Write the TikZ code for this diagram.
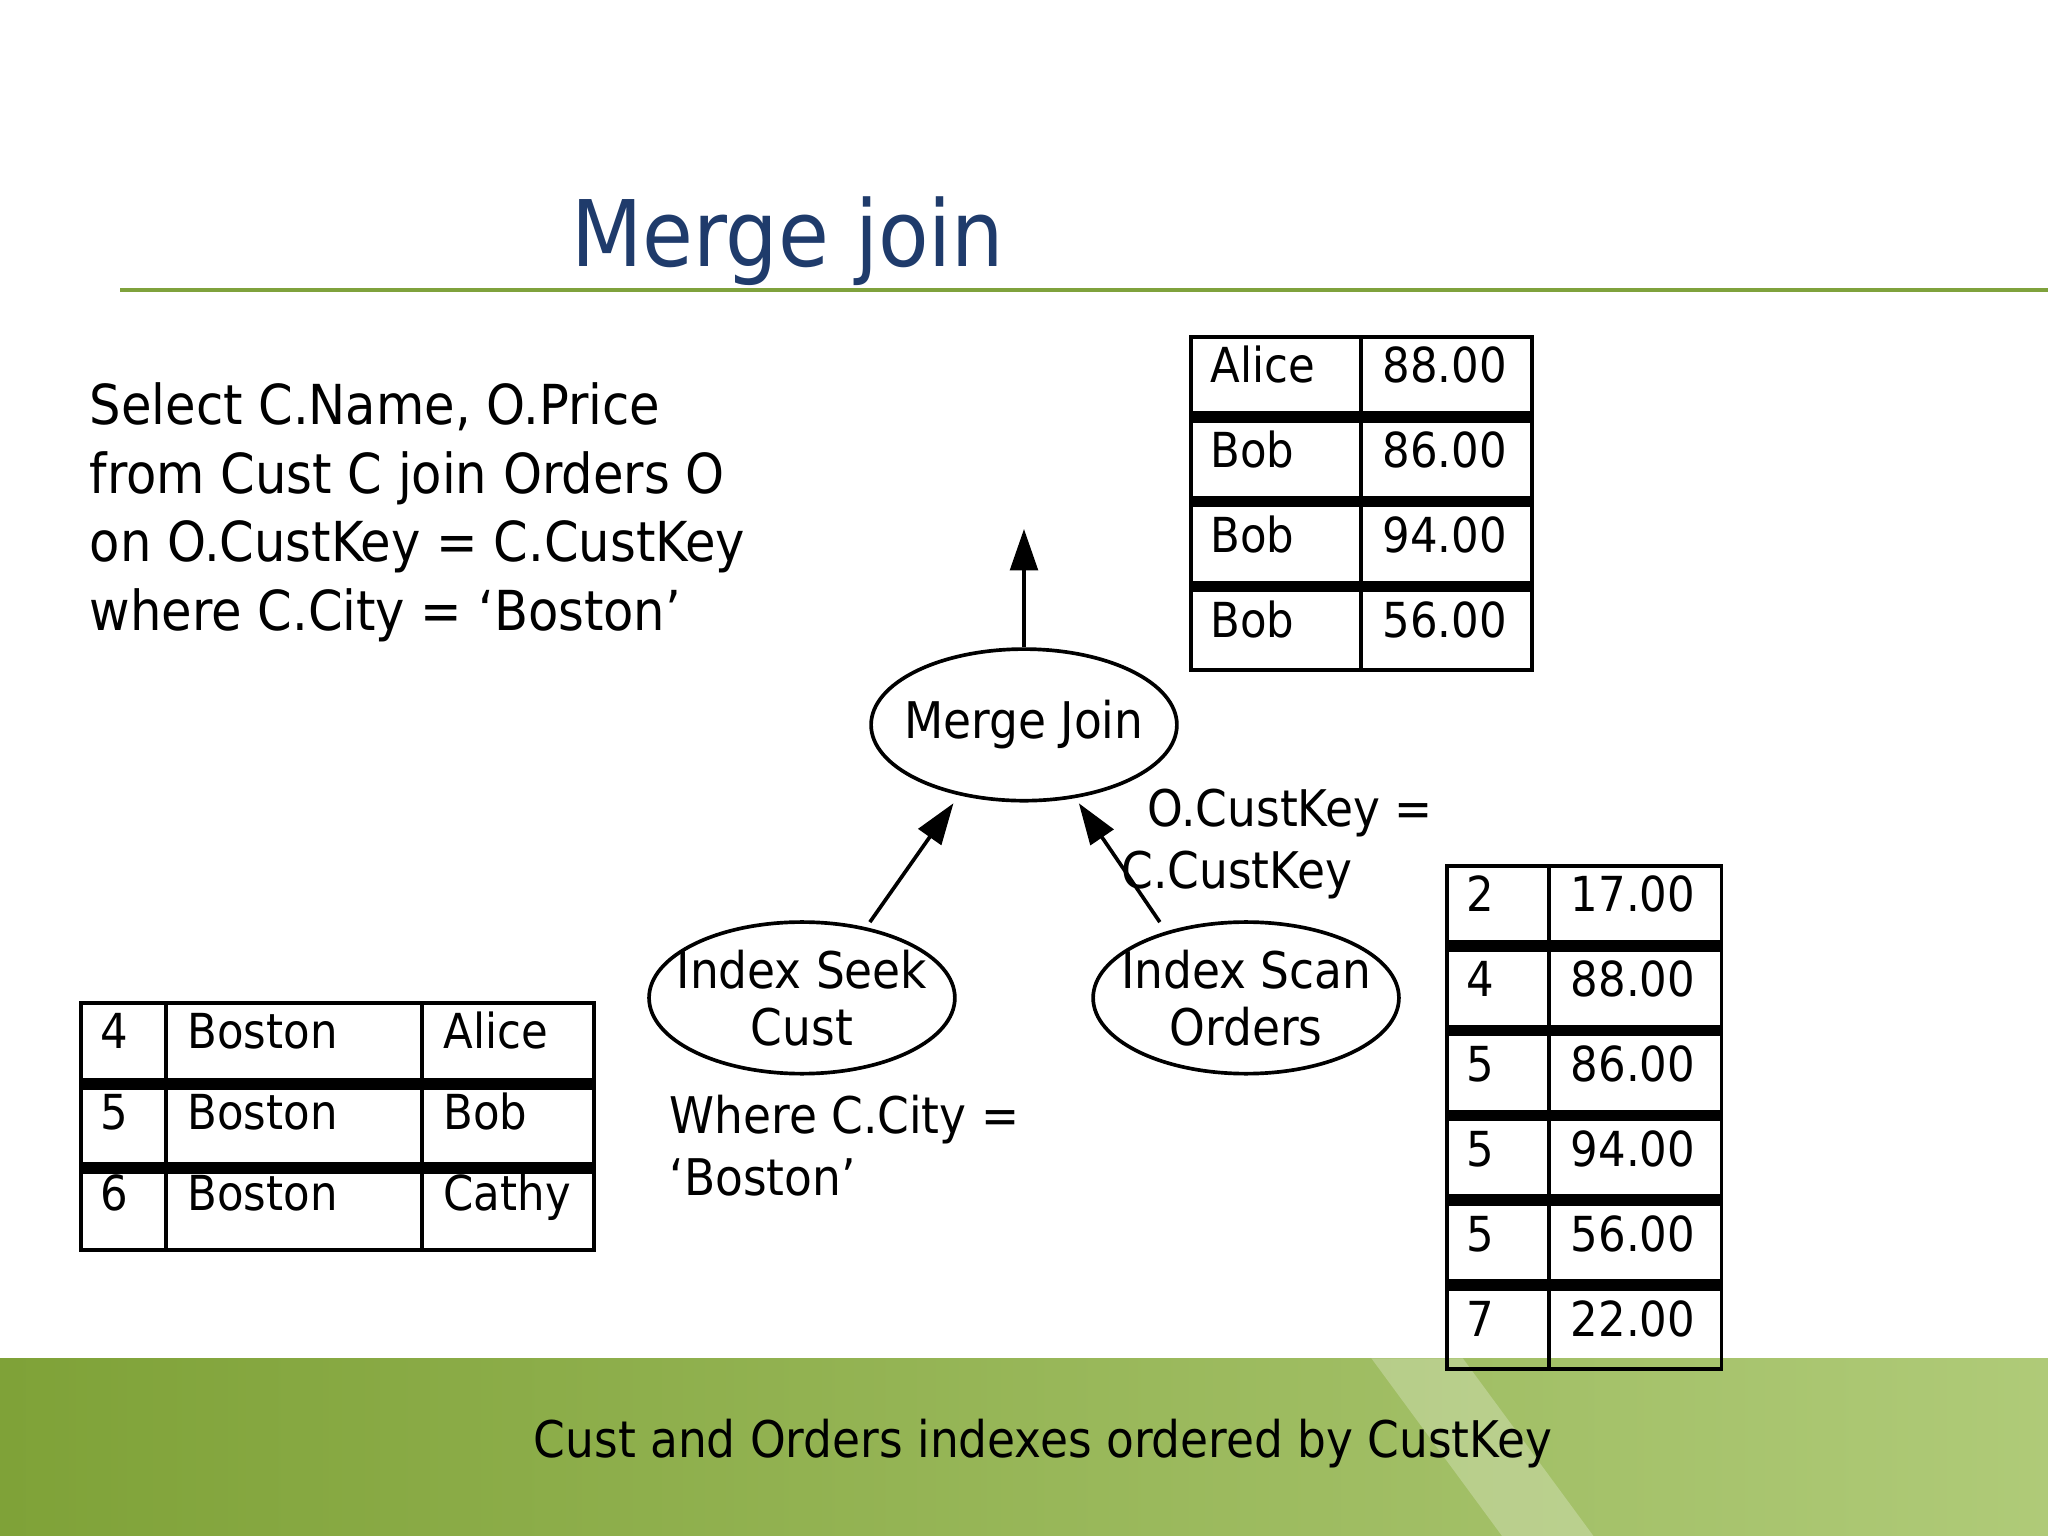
\documentclass[tikz,border=0pt]{standalone}
\usepackage{fontspec}
\setmainfont{DejaVu Sans Condensed}
\usetikzlibrary{shapes.geometric,arrows.meta}
\definecolor{titleblue}{HTML}{1F3B6B}
\definecolor{linegreen}{HTML}{7FA23C}
\definecolor{bandgreen}{HTML}{8DB43E}
\tikzset{
  op/.style={ellipse,draw,thick,minimum width=2.34cm,minimum height=1.16cm,align=center,font=\fontsize{11}{12.5}\selectfont,inner xsep=-0.2cm,inner ysep=0pt},
  txt/.style={anchor=west,font=\fontsize{11}{13.5}\selectfont,inner sep=0pt},
  cell/.style={anchor=base west,font=\fontsize{10.5}{12}\selectfont,inner sep=0pt},
  flow/.style={thick,-{Triangle[width=6pt,length=9pt]}}
}
\begin{document}
\begin{tikzpicture}[x=0.01cm,y=-0.01cm]
  \useasboundingbox (0,0) rectangle (1568,1176);
  % background band and title rule
  \shade[left color=bandgreen!90!black,right color=bandgreen!70!white] (0,1040) rectangle (1568,1176);
  \fill[white,opacity=0.25] (1050,1040) -- (1120,1040) -- (1220,1176) -- (1150,1176) -- cycle;
  \draw[linegreen,thick] (92,222) -- (1568,222);
  \node[font=\fontsize{20}{24}\selectfont,text=titleblue] (title) at (603,185) {Merge join};

  % query text
  \node[txt,align=left,anchor=north west,font=\fontsize{12}{15}\selectfont] (query) at (68,292)
    {Select C.Name, O.Price\\from Cust C join Orders O\\on O.CustKey = C.CustKey\\where C.City = ‘Boston’};

  % plan
  \node[op] (mj) at (784,555) {Merge Join};
  \node[op] (seek) at (614,764) {Index Seek\\Cust};
  \node[op] (scan) at (954,764) {Index Scan\\Orders};
  \coordinate (out) at (784,405);
  \coordinate (mjl) at (730,615);
  \coordinate (mjr) at (826,615);
  \coordinate (seekt) at (666,706);
  \coordinate (scant) at (888,706);
  \draw[flow] (mj.north) -- (out);
  \draw[flow] (seekt) -- (mjl);
  \draw[flow] (scant) -- (mjr);
  \node[txt,anchor=north west,align=left] (pred) at (878,603) {O.CustKey =\\\hspace*{-0.2cm}C.CustKey};
  \node[txt,anchor=north west,align=left] (where) at (512,838) {Where C.City =\\‘Boston’};
  \node[txt] (foot) at (408,1105) {Cust and Orders indexes ordered by CustKey};

  % left table
  \draw[line width=0.03cm] (62,768) rectangle (455,957);
  \draw[line width=0.03cm] (127,768) -- (127,957) (323,768) -- (323,957);
  \foreach \y in {830,894} \draw[line width=0.09cm] (62,\y) -- (455,\y);
  \foreach \k/\c/\n [count=\i from 0] in {4/Boston/Alice,5/Boston/Bob,6/Boston/Cathy}{
    \node[cell] at (76,{803+62*\i}) {\k};
    \node[cell] at (143,{803+62*\i}) {\c};
    \node[cell] at (339,{803+62*\i}) {\n};
  }

  % result table
  \draw[line width=0.03cm] (912,258) rectangle (1173,513);
  \draw[line width=0.03cm] (1042,258) -- (1042,513);
  \foreach \y in {319,384,449} \draw[line width=0.09cm] (912,\y) -- (1173,\y);
  \foreach \n/\p [count=\i from 0] in {Alice/88.00,Bob/86.00,Bob/94.00,Bob/56.00}{
    \node[cell] at (926,{293+65*\i}) {\n};
    \node[cell] at (1058,{293+65*\i}) {\p};
  }

  % orders table
  \draw[line width=0.03cm] (1108,663) rectangle (1318,1048);
  \draw[line width=0.03cm] (1186,663) -- (1186,1048);
  \foreach \y in {724,789,854,919,984} \draw[line width=0.09cm] (1108,\y) -- (1318,\y);
  \foreach \k/\p [count=\i from 0] in {2/17.00,4/88.00,5/86.00,5/94.00,5/56.00,7/22.00}{
    \node[cell] at (1122,{698+65*\i}) {\k};
    \node[cell] at (1202,{698+65*\i}) {\p};
  }
\end{tikzpicture}
\end{document}
